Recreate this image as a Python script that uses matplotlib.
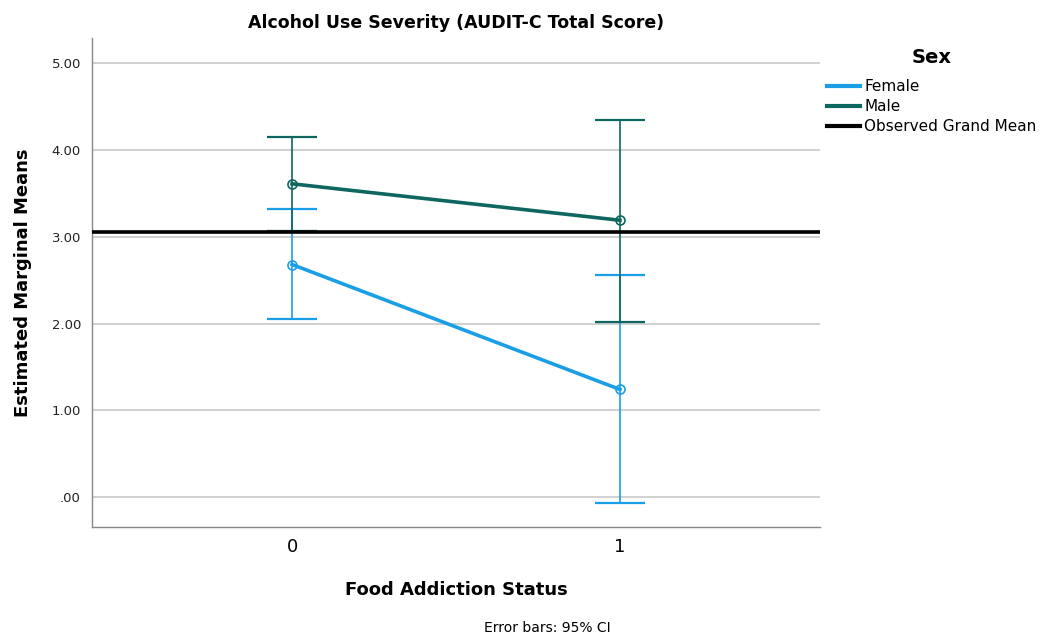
import matplotlib
matplotlib.use("Agg")
import matplotlib.pyplot as plt
from matplotlib.lines import Line2D

plt.rcParams['font.family'] = ['DejaVu Sans']

# Datos
estado = [0, 1]
etiquetas_x = ["0", "1"]
female_media = [2.68, 1.24]
female_sup = [3.32, 2.56]
female_inf = [2.05, -0.07]
male_media = [3.61, 3.19]
male_sup = [4.15, 4.35]
male_inf = [3.07, 2.02]
media_global = 3.05
ticks_y = [0, 1, 2, 3, 4, 5]
etiquetas_y = [".00", "1.00", "2.00", "3.00", "4.00", "5.00"]

c_female = "#1a9fe6"
c_male = "#0e6660"

fig = plt.figure(figsize=(10.53, 6.37), dpi=100)
ax = fig.add_axes([0.0874, 0.1727, 0.6913, 0.7676])

for media, sup, inf, color in [(female_media, female_sup, female_inf, c_female),
                               (male_media, male_sup, male_inf, c_male)]:
    err = [[m - i for m, i in zip(media, inf)], [s - m for m, s in zip(media, sup)]]
    ax.errorbar(estado, media, yerr=err, fmt="none", ecolor=color,
                elinewidth=1.2, capsize=18, capthick=1.6, zorder=3)
    ax.plot(estado, media, color=color, lw=2.6, marker="o", ms=6.5,
            mfc="none", mec=color, mew=1.2, zorder=4)

ax.axhline(media_global, color="black", lw=2.6, zorder=5)

ax.set_xlim(-0.61, 1.61)
ax.set_ylim(-0.345, 5.29)
ax.set_xticks(estado)
ax.set_xticklabels(etiquetas_x, fontsize=13)
ax.set_yticks(ticks_y)
ax.set_yticklabels(etiquetas_y, fontsize=9.5, color="#222222")
ax.tick_params(length=0, pad=8)
ax.yaxis.grid(True, color="#c8c8c8", lw=1.2)
ax.set_axisbelow(True)
for s in ["top", "right"]:
    ax.spines[s].set_visible(False)
for s in ["left", "bottom"]:
    ax.spines[s].set_color("#888888")
    ax.spines[s].set_linewidth(1.0)

ax.set_title("Alcohol Use Severity (AUDIT-C Total Score)", fontsize=12.5,
             fontweight="bold", pad=7)
ax.set_xlabel("Food Addiction Status", fontsize=13, fontweight="bold", labelpad=18)
ax.set_ylabel("Estimated Marginal Means", fontsize=13, fontweight="bold", labelpad=14)

handles = [Line2D([0], [0], color=c_female, lw=3),
           Line2D([0], [0], color=c_male, lw=3),
           Line2D([0], [0], color="black", lw=3)]
leg = fig.legend(handles, ["Female", "Male", "Observed Grand Mean"],
                 title="Sex", loc="upper left", bbox_to_anchor=(0.778, 0.937),
                 frameon=False, fontsize=11, handlelength=2.2,
                 handletextpad=0.25, labelspacing=0.33, borderpad=0)
leg.get_title().set_fontweight("bold")
leg.get_title().set_fontsize(14)
leg._legend_box.sep = 9

fig.text(0.52, 0.003, "Error bars: 95% CI", ha="center", va="bottom", fontsize=10)

fig.savefig("out.png", dpi=100)
